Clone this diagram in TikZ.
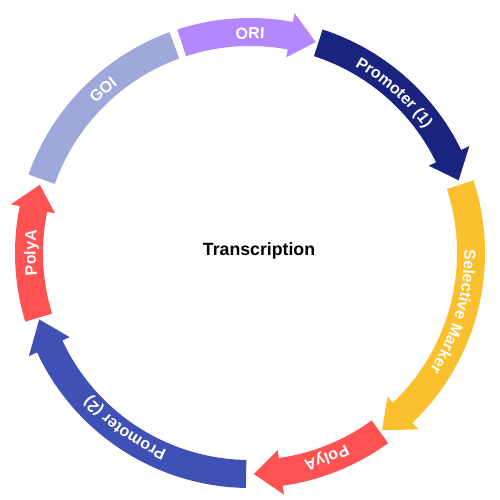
\documentclass[tikz,border=0pt]{standalone}
\usepackage{fontspec}
\setmainfont{Liberation Sans}
\usetikzlibrary{decorations.text}
\definecolor{cgoi}{HTML}{9FA8DA}
\definecolor{cori}{HTML}{B388FF}
\definecolor{cpromA}{HTML}{1A237E}
\definecolor{csel}{HTML}{FBC02D}
\definecolor{cpolya}{HTML}{FF5252}
\definecolor{cpromB}{HTML}{3F51B5}
\newcommand{\lblfont}{\bfseries\fontsize{16}{19}\selectfont}
% color, start angle, head base angle, tip angle (clockwise)
\newcommand{\plasarrow}[4]{%
  \fill[#1] (#2:235pt) arc[start angle=#2, end angle=#3, radius=235pt]
    -- (#3:244pt) -- (#4:221pt) -- (#3:199pt) -- (#3:207pt)
    arc[start angle=#3, end angle=#2, radius=207pt] -- cycle;}
% center angle, text (set along the arc, clockwise, tops outward)
\newcommand{\arclabel}[2]{%
  \path[decorate, decoration={text along path, text align=center,
    text color=white, text={|\lblfont|#2}}]
    (#1+40:214.3pt) arc[start angle=#1+40, end angle=#1-40, radius=214.3pt];}
\tikzset{titlelbl/.style={font=\bfseries\fontsize{17.7}{21}\selectfont, anchor=base}}
\begin{document}
\begin{tikzpicture}
\useasboundingbox (-250pt,-247pt) rectangle (250pt,253pt);
% GOI plain segment
\fill[cgoi] (160.5:235pt) arc[start angle=160.5, end angle=110, radius=235pt]
  -- (110:207pt) arc[start angle=110, end angle=160.5, radius=207pt] -- cycle;
\plasarrow{cori}{108}{79.5}{72.7}
\plasarrow{cpromA}{72}{26}{19.2}
\plasarrow{csel}{18}{-46.3}{-53.3}
\plasarrow{cpolya}{-54}{-82}{-89}
\plasarrow{cpromB}{269}{205}{197.5}
\plasarrow{cpolya}{197}{168.5}{162}
\arclabel{132}{GOI}
\arclabel{90}{ORI}
\arclabel{48}{Promoter (1)}
\arclabel{-16}{Selective Marker}
\arclabel{-69.5}{PolyA}
\arclabel{234.5}{Promoter (2)}
\arclabel{180}{PolyA}
\node[titlelbl] (title) at (9pt,-3pt) {Transcription};
\end{tikzpicture}
\end{document}
